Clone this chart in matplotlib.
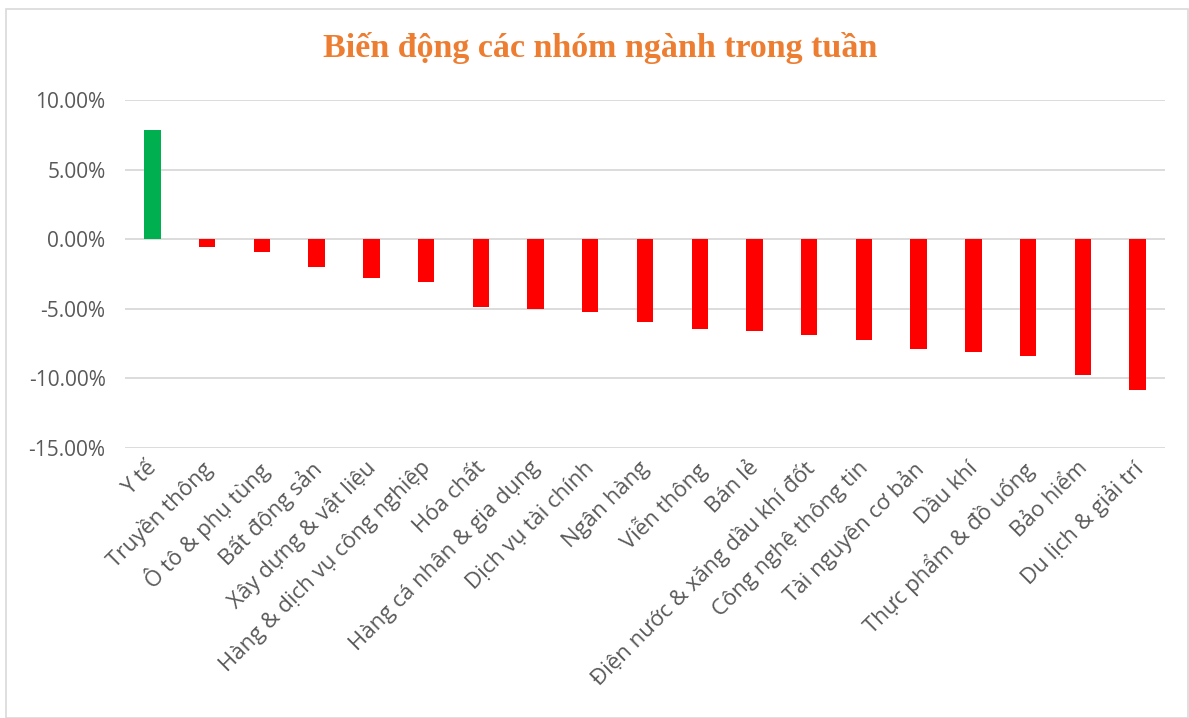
import matplotlib
matplotlib.use("Agg")
import matplotlib.pyplot as plt
import matplotlib.transforms as mtransforms
from matplotlib.ticker import FuncFormatter, MultipleLocator
from matplotlib.patches import Rectangle

categories = ["Y tế", "Truyền thông", "Ô tô & phụ tùng", "Bất động sản",
              "Xây dựng & vật liệu", "Hàng & dịch vụ công nghiệp", "Hóa chất",
              "Hàng cá nhân & gia dụng", "Dịch vụ tài chính", "Ngân hàng",
              "Viễn thông", "Bán lẻ", "Điện nước & xăng dầu khí đốt",
              "Công nghệ thông tin", "Tài nguyên cơ bản", "Dầu khí",
              "Thực phẩm & đồ uống", "Bảo hiểm", "Du lịch & giải trí"]
values = [7.82, -0.53, -0.92, -1.97, -2.82, -3.11, -4.84, -5.01, -5.26, -5.97,
          -6.47, -6.61, -6.90, -7.27, -7.91, -8.13, -8.42, -9.79, -10.80]
title = "Biến động các nhóm ngành trong tuần"

W, H = 1189, 718
fig = plt.figure(figsize=(W / 100, H / 100), dpi=100)
fig.patches.append(Rectangle((6 / W, 0), (W - 7) / W, (H - 9) / H,
                             transform=fig.transFigure, fill=False,
                             edgecolor="#D9D9D9", linewidth=1.2))

ax = fig.add_axes([125 / W, 1 - 448 / H, (1165 - 125) / W, (448 - 100) / H])
colors = ["#00B050" if v >= 0 else "#FF0000" for v in values]
x = list(range(len(categories)))
ax.bar(x, values, width=0.3, color=colors, zorder=3)

ax.set_ylim(-15, 10)
ax.set_xlim(-0.5, len(categories) - 0.5)
ax.yaxis.set_major_locator(MultipleLocator(5))
ax.yaxis.set_major_formatter(FuncFormatter(lambda v, p: f"{v:.2f}%"))
ax.grid(axis="y", color="#D9D9D9", linewidth=1.3, zorder=0)
for s in ax.spines.values():
    s.set_visible(False)
ax.tick_params(axis="both", length=0, colors="#595959")
ax.tick_params(axis="y", labelsize=15, pad=14)
ax.set_xticks(x)
ax.set_xticklabels(categories, rotation=45, ha="right", va="top",
                   rotation_mode="anchor", fontsize=16, color="#595959",
                   family="Open Sans")
for lab in ax.get_yticklabels():
    lab.set_family("Open Sans")
ax.tick_params(axis="x", pad=4)
offset = mtransforms.ScaledTranslation(-6 / 100, -4 / 100, fig.dpi_scale_trans)
for lab in ax.get_xticklabels():
    lab.set_transform(lab.get_transform() + offset)

fig.text(600 / W, 1 - 48 / H, title, ha="center", va="center",
         fontsize=24.5, fontweight="bold", color="#ED7D31",
         family="Liberation Serif")

fig.savefig("out.png", dpi=100, facecolor="white")
